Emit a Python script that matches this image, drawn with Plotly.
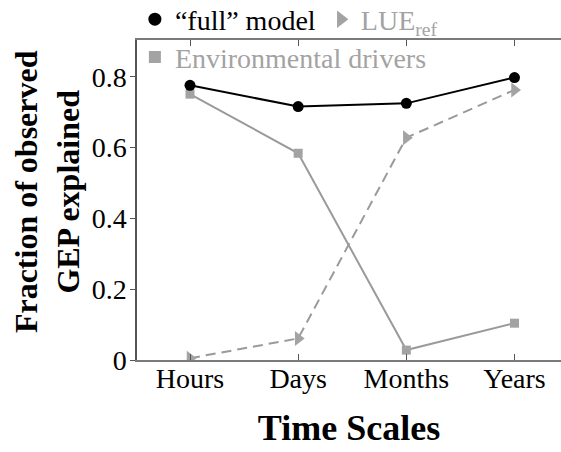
import plotly.graph_objects as go

# Time scales on the x axis
scales = ["Hours", "Days", "Months", "Years"]

# Fraction of observed GEP explained, per model
full_model = [0.776, 0.716, 0.725, 0.798]
lue_ref = [0.005, 0.061, 0.628, 0.763]
env_drivers = [0.751, 0.584, 0.028, 0.104]

y_ticks = [0, 0.2, 0.4, 0.6, 0.8]
y_tick_text = ["0", "0.2", "0.4", "0.6", "0.8"]

GRAY = "#a3a3a3"
LINE_GRAY = "#9a9a9a"
SERIF = "Liberation Serif, Times New Roman, serif"

fig = go.Figure()

# data series: lines with markers, legend entries are added separately
fig.add_trace(go.Scatter(x=scales, y=env_drivers, mode="lines+markers",
                         line=dict(color=LINE_GRAY, width=2),
                         marker=dict(symbol="square", size=9, color=GRAY),
                         showlegend=False))
fig.add_trace(go.Scatter(x=scales, y=lue_ref, mode="lines+markers",
                         line=dict(color=LINE_GRAY, width=2, dash="10px,6px"),
                         marker=dict(symbol="triangle-right", size=13, color=GRAY),
                         showlegend=False))
fig.add_trace(go.Scatter(x=scales, y=full_model, mode="lines+markers",
                         line=dict(color="black", width=2),
                         marker=dict(symbol="circle", size=11, color="black"),
                         showlegend=False))

# legend keys (marker only)
fig.add_trace(go.Scatter(x=[None], y=[None], mode="markers",
                         name="“full” model",
                         marker=dict(symbol="circle", size=13, color="black"),
                         legend="legend"))
fig.add_trace(go.Scatter(x=[None], y=[None], mode="markers",
                         name=f'<span style="color:{GRAY}">LUE<sub>ref</sub></span>',
                         marker=dict(symbol="triangle-right", size=15, color=GRAY),
                         legend="legend"))
fig.add_trace(go.Scatter(x=[None], y=[None], mode="markers",
                         name=f'<span style="color:{GRAY}">Environmental drivers</span>',
                         marker=dict(symbol="square", size=12, color=GRAY),
                         legend="legend2"))

legend_font = dict(size=28, family=SERIF, color="black")

fig.update_layout(
    width=561, height=452,
    margin=dict(l=137, r=0, t=40, b=92, autoexpand=False),
    paper_bgcolor="white", plot_bgcolor="white",
    font=dict(family=SERIF, size=28, color="black"),
    showlegend=True,
    legend=dict(orientation="h", x=-0.005, xanchor="left",
                y=1.064, yanchor="middle",
                bgcolor="rgba(0,0,0,0)", font=legend_font,
                itemclick=False, itemdoubleclick=False),
    legend2=dict(orientation="h", x=-0.005, xanchor="left",
                 y=0.946, yanchor="middle",
                 bgcolor="rgba(0,0,0,0)", font=legend_font,
                 itemclick=False, itemdoubleclick=False),
    xaxis=dict(
        type="category", range=[-0.49, 3.43],
        showline=True, linecolor="#7a7a7a", linewidth=1.5,
        mirror="ticks", ticks="inside", ticklen=6, tickcolor="#555",
        showgrid=False, zeroline=False,
        tickfont=dict(size=28, family=SERIF),
        ticklabelstandoff=-7,
        title=dict(text="<b>Time Scales</b>", font=dict(size=36, family=SERIF),
                   standoff=21),
    ),
    yaxis=dict(
        range=[0, 0.904],
        tickvals=y_ticks, ticktext=y_tick_text,
        showline=True, linecolor="#555", linewidth=1.5,
        ticks="outside", ticklen=5, tickcolor="#555",
        showgrid=False, zeroline=False,
        tickfont=dict(size=28, family=SERIF),
        ticklabelstandoff=-2,
    ),
    annotations=[dict(
        text="<b>Fraction of observed<br>GEP explained</b>",
        xref="paper", yref="paper", x=-0.212, y=0.525,
        xanchor="center", yanchor="middle", textangle=-90,
        showarrow=False, font=dict(size=32, family=SERIF, color="black"),
    )],
)

fig.write_html("out.html")
